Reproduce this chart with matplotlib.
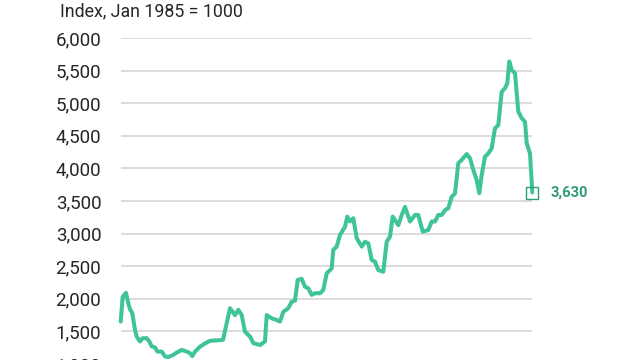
import matplotlib
matplotlib.use("Agg")
import matplotlib.pyplot as plt
from matplotlib.ticker import FuncFormatter

# period offset along the x axis and index value (Jan 1985 = 1000)
period = [0, 2, 5.3, 7.6, 9.3, 11.6, 14.3, 16, 19.3, 22, 26, 28.6, 31, 34.3,
          36.6, 41, 44.3, 47.6, 52.6, 56, 61, 66, 69.3, 71.6, 74.3, 79.3,
          84.3, 89.3, 99.3, 102.3, 109.3, 114.3, 117.6, 121, 124.3, 129.3,
          132.6, 139.3, 144.3, 146, 151, 156, 159.3, 162.6, 167.6, 171,
          174.3, 177, 181, 184.3, 187.6, 191, 194.3, 199.3, 202.6, 206,
          211, 212.6, 216, 219.3, 224.3, 226.6, 229.3, 232.6, 236, 241,
          244.3, 247.6, 251, 254.3, 257.6, 262.6, 266, 269.3, 272, 277.6,
          281, 284.3, 289.3, 294.3, 297.6, 302, 307.6, 311, 314.3, 317.6,
          321, 324.3, 327.6, 331, 334.3, 337.6, 341, 346, 349.3, 352.6,
          356, 358.6, 361, 364.3, 367.6, 371, 374.3, 377.6, 381, 384.3,
          386.6, 388.6, 391, 394.3, 397.6, 401, 404.3, 406, 409.3, 411.6]
index_value = [1650, 2030, 2090, 1930, 1840, 1780, 1520, 1420, 1345, 1395,
               1395, 1345, 1270, 1255, 1190, 1190, 1115, 1105, 1140, 1175,
               1215, 1190, 1165, 1120, 1190, 1265, 1315, 1355, 1365, 1370,
               1855, 1750, 1830, 1750, 1495, 1420, 1320, 1290, 1345, 1750,
               1700, 1675, 1650, 1800, 1855, 1955, 1970, 2290, 2305, 2185,
               2160, 2060, 2085, 2085, 2135, 2390, 2465, 2750, 2800, 2980,
               3105, 3260, 3185, 3235, 2930, 2800, 2875, 2850, 2595, 2570,
               2440, 2415, 2875, 2955, 3260, 3130, 3285, 3410, 3185, 3285,
               3285, 3030, 3055, 3185, 3185, 3285, 3285, 3360, 3390, 3565,
               3615, 4080, 4130, 4220, 4155, 3975, 3820, 3620, 3900, 4180,
               4230, 4310, 4615, 4665, 5175, 5230, 5305, 5640, 5510, 5460,
               4870, 4770, 4715, 4385, 4230, 3630]
y_ticks = [1000, 1500, 2000, 2500, 3000, 3500, 4000, 4500, 5000, 5500, 6000]
last_label = "3,630"

LINE = "#3fc39b"
LABEL = "#2e9c7c"
TEXT = "#262626"

plt.rcParams['font.family'] = ['Roboto', 'DejaVu Sans']

fig = plt.figure(figsize=(6.4, 3.6), dpi=100)
# axes runs a little past the bottom edge so the 1,000 label is cut off
ax = fig.add_axes([120.7 / 640, -17 / 360, 411.6 / 640, 339 / 360])

ax.plot(period, index_value, color=LINE, lw=2.9, solid_joinstyle="round",
        solid_capstyle="round", clip_on=False, zorder=3)
ax.plot(period[-1], index_value[-1], marker="s", ms=8.5, mfc="none",
        mec=LABEL, mew=1.0, clip_on=False, zorder=4)
ax.annotate(last_label, (period[-1], index_value[-1]), xytext=(13, 0),
            textcoords="offset points", ha="left", va="center",
            fontsize=10.5, fontweight="bold", color=LABEL)

ax.set_xlim(0, 411.6)
ax.set_ylim(800, 6000)
ax.set_yticks(y_ticks)
ax.yaxis.set_major_formatter(FuncFormatter(lambda v, p: f"{int(v):,}"))
ax.set_xticks([])
ax.grid(axis="y", color="#d2d2d2", lw=1.1)
ax.set_axisbelow(True)
for s in ax.spines.values():
    s.set_visible(False)
ax.tick_params(axis="y", length=0, pad=14, labelsize=13.5, labelcolor=TEXT)

fig.text(60 / 640, 1 - 2 / 360, "Index, Jan 1985 = 1000", ha="left", va="top",
         fontsize=12.8, color=TEXT)

fig.savefig("out.png", dpi=100)
